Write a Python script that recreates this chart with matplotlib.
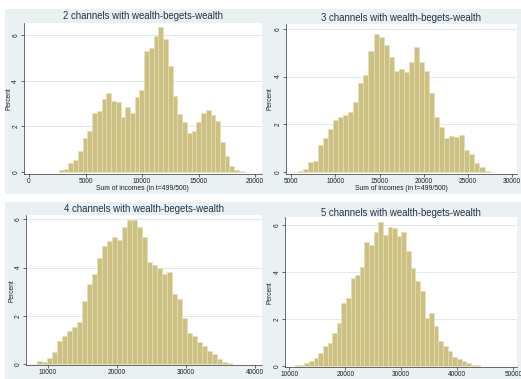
import matplotlib
matplotlib.use("Agg")
import matplotlib.pyplot as plt
from matplotlib.patches import Rectangle
import numpy as np

plt.rcParams['font.family'] = ['Liberation Sans', 'DejaVu Sans']

# ---- data: percent of runs per income bin ----
titles = [
    "2 channels with wealth-begets-wealth",
    "3 channels with wealth-begets-wealth",
    "4 channels with wealth-begets-wealth",
    "5 channels with wealth-begets-wealth",
]

pct_2ch = [0.07, 0.15, 0.38, 0.53, 0.9, 1.5, 1.8, 2.6, 2.68, 3.2, 3.45, 3.13, 3.09,
           2.4, 2.83, 2.6, 3.3, 3.58, 5.29, 5.46, 5.95, 6.38, 5.83, 4.63, 3.35, 2.53,
           2.2, 1.73, 1.8, 2.2, 2.58, 2.7, 2.5, 2.25, 1.32, 0.7, 0.28, 0.09, 0.03, 0.01]
pct_3ch = [0.01, 0.03, 0.12, 0.4, 0.48, 1.12, 1.44, 1.79, 2.17, 2.32, 2.41, 2.52, 2.92,
           3.75, 4.06, 5.09, 5.78, 5.65, 5.31, 4.84, 4.24, 4.32, 4.21, 4.63, 5.26, 4.6,
           4.25, 3.31, 2.32, 1.89, 1.41, 1.51, 1.45, 1.57, 0.92, 0.77, 0.39, 0.22, 0.06, 0.01]
pct_4ch = [0.02, 0.12, 0.08, 0.25, 0.48, 0.95, 1.15, 1.35, 1.55, 1.75, 2.62, 3.3, 3.75,
           4.38, 4.9, 5.1, 5.25, 5.15, 5.7, 5.97, 5.98, 5.7, 5.28, 4.22, 4.12, 4.0, 3.73,
           3.83, 2.9, 2.68, 1.9, 1.3, 1.15, 0.9, 0.75, 0.55, 0.4, 0.2, 0.08, 0.03]
pct_5ch = [0.02, 0.05, 0.1, 0.18, 0.32, 0.55, 0.82, 0.95, 1.4, 1.8, 2.65, 2.88, 3.72,
           3.88, 4.18, 5.25, 5.15, 5.68, 6.1, 5.55, 5.9, 5.85, 5.5, 5.7, 4.9, 4.15, 3.6,
           3.2, 2.03, 2.24, 1.7, 1.05, 0.84, 0.63, 0.35, 0.28, 0.19, 0.11, 0.05, 0.02]

bin_start = [2655, 5200, 7680, 11050]
bin_width = [419, 570, 725, 825]

xticks_2ch = [0, 5000, 10000, 15000, 20000]
xticks_3ch = [5000, 10000, 15000, 20000, 25000, 30000]
xticks_4ch = [10000, 20000, 30000, 40000]
xticks_5ch = [10000, 20000, 30000, 40000, 50000]
yticks = [0, 2, 4, 6]

xlabel = "Sum of incomes (in t=499/500)"
ylabel = "Percent"

# ---- styling ----
W, H = 521, 379
BG = "#E9F1F3"
BAR = "#CCC182"
BAR_EDGE = "#E6DFB8"
GRID = "#E0E9EC"
TITLE_C = "#25334D"
AX_C = "#333333"
TXT_C = "#1e1e1e"

fig = plt.figure(figsize=(W / 100, H / 100), dpi=100)
fig.patch.set_facecolor("white")

# pixel layout of each graph: background box, plot box, x/y limits, text anchors
layout = [
    dict(bg=(5, 9, 263, 194), plot=(23.5, 22.7, 262, 174), xlim=(-487, 20619),
         ylim=(-0.088, 6.55), title_y=16, ylab_x=9.3, xlab_y=188.5),
    dict(bg=(263, 9, 521, 194), plot=(286, 24, 516.7, 173.7), xlim=(4435, 30497),
         ylim=(-0.071, 6.21), title_y=18.3, ylab_x=270, xlab_y=188),
    dict(bg=(5, 202, 262.5, 379), plot=(26, 215, 262, 365.3), xlim=(6860, 41013),
         ylim=(-0.054, 6.18), title_y=209, ylab_x=11.7, xlab_y=382.5),
    dict(bg=(263, 202, 521, 379), plot=(285, 217.3, 516.7, 367.3), xlim=(9232, 50607),
         ylim=(-0.068, 6.315), title_y=212.7, ylab_x=270, xlab_y=383.5),
]

series = [pct_2ch, pct_3ch, pct_4ch, pct_5ch]
xticks = [xticks_2ch, xticks_3ch, xticks_4ch, xticks_5ch]


def fx(px):
    return px / W


def fy(py):
    return 1 - py / H


for i, (lay, pct) in enumerate(zip(layout, series)):
    bx0, by0, bx1, by1 = lay["bg"]
    fig.patches.append(Rectangle((fx(bx0), fy(by1)), fx(bx1) - fx(bx0), fy(by0) - fy(by1),
                                 transform=fig.transFigure, facecolor=BG,
                                 edgecolor="none", zorder=-10))
    px0, py0, px1, py1 = lay["plot"]
    ax = fig.add_axes([fx(px0), fy(py1), fx(px1) - fx(px0), fy(py0) - fy(py1)])
    ax.set_facecolor("white")

    w = bin_width[i]
    centers = bin_start[i] + w * (np.arange(len(pct)) + 0.5)
    ax.bar(centers, pct, width=w, color=BAR, edgecolor=BAR_EDGE, linewidth=0.45, zorder=2)

    ax.set_xlim(*lay["xlim"])
    ax.set_ylim(*lay["ylim"])
    ax.set_xticks(xticks[i])
    ax.set_xticklabels([str(t) for t in xticks[i]])
    ax.set_yticks(yticks)
    ax.set_yticklabels([str(t) for t in yticks], rotation=90, va="center")
    for y in yticks[1:]:
        ax.axhline(y, color=GRID, linewidth=0.7, zorder=1)

    for s in ("top", "right"):
        ax.spines[s].set_visible(False)
    for s in ("left", "bottom"):
        ax.spines[s].set_color(AX_C)
        ax.spines[s].set_linewidth(0.5)
    ax.tick_params(axis="both", direction="out", length=2, width=0.5, color=AX_C,
                   labelsize=4.7, labelcolor=TXT_C, pad=1.0)

    cx = (px0 + px1) / 2
    fig.text(fx(cx), fy(lay["title_y"]), titles[i], ha="center", va="center",
             fontsize=6.9, color=TITLE_C)
    fig.text(fx(cx), fy(lay["xlab_y"]), xlabel, ha="center", va="center",
             fontsize=4.9, color=TXT_C)
    fig.text(fx(lay["ylab_x"]), fy((py0 + py1) / 2), ylabel, ha="center", va="center",
             rotation=90, fontsize=4.8, color=TXT_C)

fig.savefig("out.png", dpi=100, facecolor="white")
